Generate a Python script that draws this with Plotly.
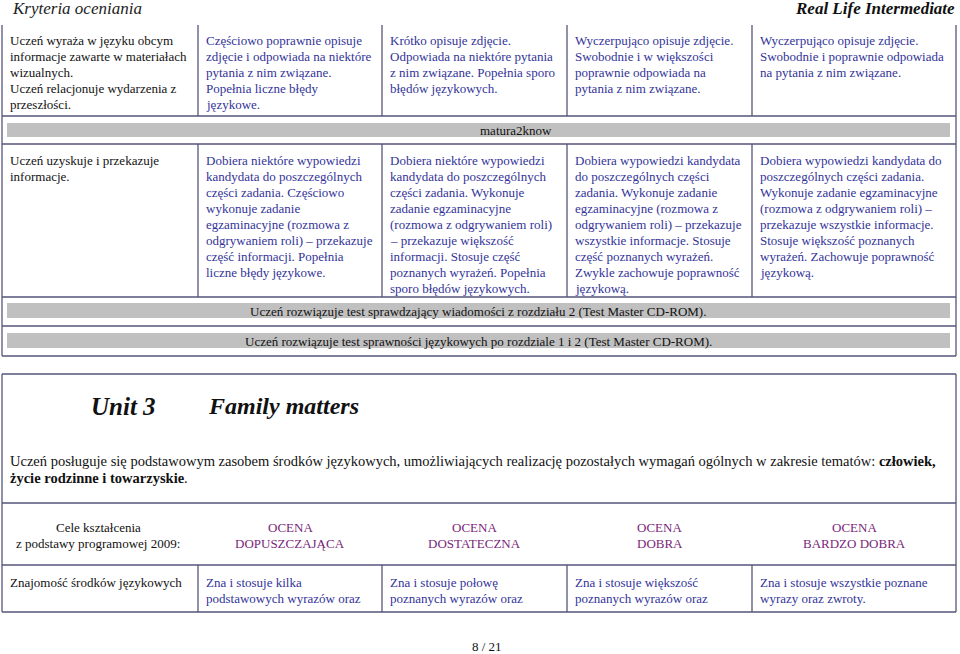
import plotly.graph_objects as go

# ---- text content of the page ----
page_title = "Kryteria oceniania"
book_title = "Real Life Intermediate"

row1_cells = [
    ["Uczeń wyraża w języku obcym", "informacje zawarte w materiałach", "wizualnych.",
     "Uczeń relacjonuje wydarzenia z", "przeszłości."],
    ["Częściowo poprawnie opisuje", "zdjęcie i odpowiada na niektóre", "pytania z nim związane.",
     "Popełnia liczne błędy", "językowe."],
    ["Krótko opisuje zdjęcie.", "Odpowiada na niektóre pytania", "z nim związane. Popełnia sporo",
     "błędów językowych."],
    ["Wyczerpująco opisuje zdjęcie.", "Swobodnie i w większości", "poprawnie odpowiada na",
     "pytania z nim związane."],
    ["Wyczerpująco opisuje zdjęcie.", "Swobodnie i poprawnie odpowiada", "na pytania z nim związane."],
]

band_label = "matura2know"

row2_cells = [
    ["Uczeń uzyskuje i przekazuje", "informacje."],
    ["Dobiera niektóre wypowiedzi", "kandydata do poszczególnych", "części zadania. Częściowo",
     "wykonuje zadanie", "egzaminacyjne (rozmowa z", "odgrywaniem roli) – przekazuje",
     "część informacji. Popełnia", "liczne błędy językowe."],
    ["Dobiera niektóre wypowiedzi", "kandydata do poszczególnych", "części zadania. Wykonuje",
     "zadanie egzaminacyjne", "(rozmowa z odgrywaniem roli)", "– przekazuje większość",
     "informacji. Stosuje część", "poznanych wyrażeń. Popełnia", "sporo błędów językowych."],
    ["Dobiera wypowiedzi kandydata", "do poszczególnych części", "zadania. Wykonuje zadanie",
     "egzaminacyjne (rozmowa z", "odgrywaniem roli) – przekazuje", "wszystkie informacje. Stosuje",
     "część poznanych wyrażeń.", "Zwykle zachowuje poprawność", "językową."],
    ["Dobiera wypowiedzi kandydata do", "poszczególnych części zadania.",
     "Wykonuje zadanie egzaminacyjne", "(rozmowa z odgrywaniem roli) –",
     "przekazuje wszystkie informacje.", "Stosuje większość poznanych",
     "wyrażeń. Zachowuje poprawność", "językową."],
]

test_rows = [
    "Uczeń rozwiązuje test sprawdzający wiadomości z rozdziału 2 (Test Master CD-ROM).",
    "Uczeń rozwiązuje test sprawności językowych po rozdziale 1 i 2 (Test Master CD-ROM).",
]

unit_no = "Unit 3"
unit_name = "Family matters"
unit_intro = [
    "Uczeń posługuje się podstawowym zasobem środków językowych, umożliwiających realizację "
    "pozostałych wymagań ogólnych w zakresie tematów: <b>człowiek,</b>",
    "<b>życie rodzinne i towarzyskie</b>.",
]

goal_header = ["Cele kształcenia", "z podstawy programowej 2009:"]
grade_headers = [["OCENA", "DOPUSZCZAJĄCA"], ["OCENA", "DOSTATECZNA"],
                 ["OCENA", "DOBRA"], ["OCENA", "BARDZO DOBRA"]]

row3_cells = [
    ["Znajomość środków językowych"],
    ["Zna i stosuje kilka", "podstawowych wyrazów oraz"],
    ["Zna i stosuje połowę", "poznanych wyrazów oraz"],
    ["Zna i stosuje większość", "poznanych wyrazów oraz"],
    ["Zna i stosuje wszystkie poznane", "wyrazy oraz zwroty."],
]

page_no = "8 / 21"

# ---- layout ----
W, H = 960, 654
col_x = [2, 198, 382, 567, 752, 956]
FONT = "Liberation Serif"
BLACK = "#111111"
BLUE = "#333399"
PURPLE = "#7a1f7a"
LINE = "#55557a"
GRAY = "#c0c0c0"
LH = 16

fig = go.Figure()
shapes = []
annots = []


def hline(y, x0=col_x[0], x1=col_x[-1]):
    shapes.append(dict(type="line", x0=x0, x1=x1, y0=y, y1=y, line=dict(color=LINE, width=1.3)))


def vline(x, y0, y1):
    shapes.append(dict(type="line", x0=x, x1=x, y0=y0, y1=y1, line=dict(color=LINE, width=1.3)))


def band(y0, y1):
    shapes.append(dict(type="rect", x0=7, x1=950, y0=y0, y1=y1, fillcolor=GRAY, line=dict(width=0)))


def text(x, y, s, color=BLACK, size=13, anchor="left"):
    annots.append(dict(x=x, y=y, text=s, showarrow=False, xanchor=anchor, yanchor="middle",
                       font=dict(family=FONT, size=size, color=color)))


def cells(rows, y_first):
    for i, lines in enumerate(rows):
        color = BLACK if i == 0 else BLUE
        for j, s in enumerate(lines):
            text(col_x[i] + 6, y_first + j * LH, s, color)


# header
text(10, 8, "<i>" + page_title + "</i>", "#222222", 17)
text(957, 8, "<b><i>" + book_title + "</i></b>", BLACK, 17, "right")

# top table
top, r1b, r2t, r2b, t1b, bottom = 25, 116, 144, 297, 326, 356
vline(col_x[0], top, bottom)
vline(col_x[-1], top, bottom)
for x in col_x[1:-1]:
    vline(x, top, r1b)
    vline(x, r2t, r2b)
for y in (r1b, r2t, r2b, t1b, bottom):
    hline(y)
band(123, 137)
text(478, 130, band_label)
cells(row1_cells, 40)
cells(row2_cells, 160)
band(303, 318)
band(333, 348)
for k, s in enumerate(test_rows):
    text(478, 311 + k * 30, s, anchor="center")

# unit box
box_top, hdr_top, hdr_bot, box_bot = 374, 503, 565, 612
hline(box_top)
vline(col_x[0], box_top, box_bot)
vline(col_x[-1], box_top, box_bot)
text(89, 406, "<b><i>" + unit_no + "</i></b>", BLACK, 25)
text(206, 406, "<b><i>" + unit_name + "</i></b>", BLACK, 24)
for j, s in enumerate(unit_intro):
    text(8, 461 + j * 17, s, BLACK, 14.5)

# bottom table
hline(hdr_top)
hline(hdr_bot)
hline(box_bot)
for x in col_x[1:-1]:
    vline(x, hdr_bot, box_bot)
for j, s in enumerate(goal_header):
    text(98, 527 + j * 16, s, anchor="center")
for i, pair in enumerate(grade_headers):
    cx = (col_x[i + 1] + col_x[i + 2]) / 2
    for j, s in enumerate(pair):
        text(cx, 527 + j * 16, s, PURPLE, anchor="center")
cells(row3_cells, 582)

text(487, 646, page_no, BLACK, 13, "center")

fig.update_layout(
    width=W, height=H, autosize=False,
    margin=dict(l=0, r=0, t=0, b=0),
    paper_bgcolor="white", plot_bgcolor="white",
    xaxis=dict(range=[0, W], visible=False, fixedrange=True),
    yaxis=dict(range=[H, 0], visible=False, fixedrange=True),
    shapes=shapes, annotations=annots, showlegend=False,
)

fig.write_html("out.html", config={"displayModeBar": False},
               post_script="document.body.style.margin='0';document.body.style.overflow='hidden';")
